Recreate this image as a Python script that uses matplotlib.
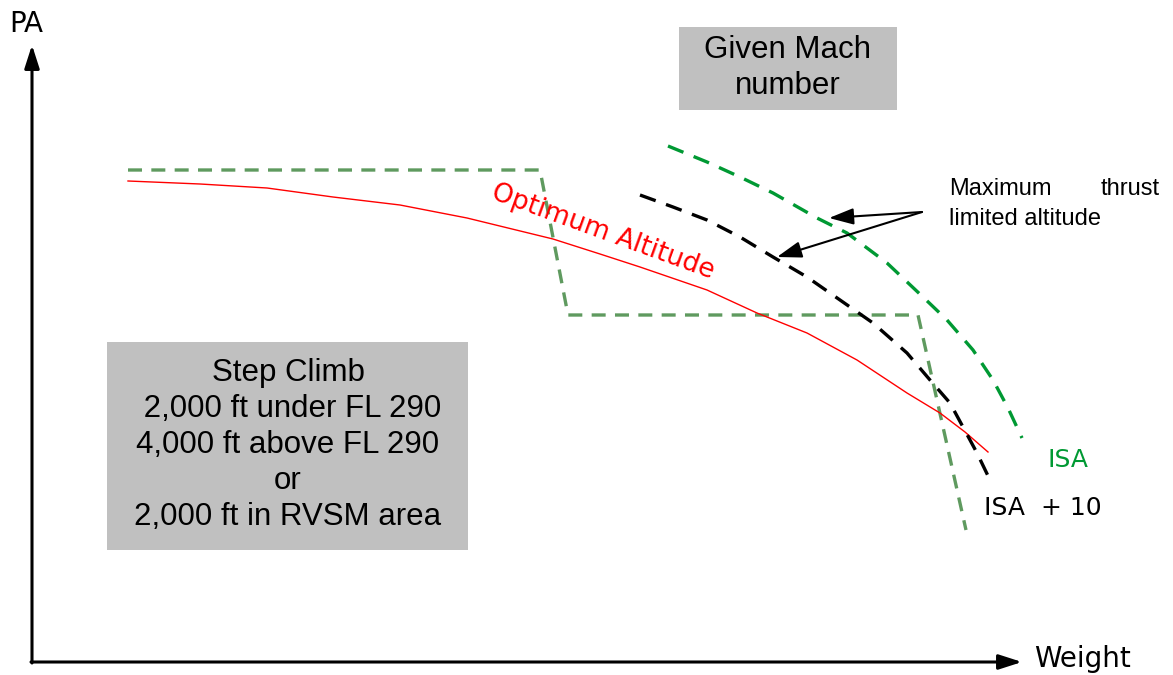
import matplotlib
matplotlib.use("Agg")
import matplotlib.pyplot as plt
from matplotlib.patches import Rectangle

# Schematic curves (weight -> pressure altitude), in drawing units (pixel-like)
step_x = [128, 540, 568, 918, 966]
step_y = [170, 170, 315, 315, 530]

opt_x = [128, 200, 267, 333, 400, 467, 553, 600, 640, 707, 757, 807, 857, 907, 940, 965, 988]
opt_y = [181, 184, 188, 197, 205, 218, 239, 254, 267, 290, 313, 333, 360, 393, 413, 432, 452]

isa10_x = [640, 673, 707, 740, 773, 807, 840, 873, 907, 930, 950, 963, 977, 990]
isa10_y = [195, 207, 220, 237, 257, 277, 300, 323, 353, 380, 403, 427, 453, 480]

isa_x = [668, 707, 740, 773, 817, 847, 887, 923, 947, 973, 993, 1008, 1022]
isa_y = [146, 162, 177, 193, 218, 233, 263, 297, 320, 350, 380, 408, 438]

fig = plt.figure(figsize=(11.73, 6.75), dpi=100)
ax = fig.add_axes([0, 0, 1, 1])
ax.set_xlim(0, 1173)
ax.set_ylim(675, 0)
ax.axis("off")

sans = ["Liberation Sans", "DejaVu Sans"]
geo = ["DejaVu Sans"]

# axes arrows
ax.annotate("", xy=(32, 45), xytext=(32, 663),
            arrowprops=dict(arrowstyle="-|>,head_length=1.4,head_width=0.45", color="black", lw=2.2, shrinkA=0, shrinkB=0))
ax.annotate("", xy=(1022, 662), xytext=(31, 662),
            arrowprops=dict(arrowstyle="-|>,head_length=1.4,head_width=0.45", color="black", lw=2.2, shrinkA=0, shrinkB=0))
ax.text(9, 24, "PA", fontsize=20, family=geo, va="center", ha="left")
ax.text(1034, 659, "Weight", fontsize=20, family=geo, va="center", ha="left")

# curves
ax.plot(step_x, step_y, color="#5f9a5f", lw=2.4, ls=(0, (4.2, 2.8)))
ax.plot(opt_x, opt_y, color="#ff0000", lw=1)
ax.plot(isa10_x, isa10_y, color="black", lw=2.4, ls=(0, (5, 3.3)))
ax.plot(isa_x, isa_y, color="#009933", lw=2.4, ls=(0, (5, 3.3)))

# boxes
ax.add_patch(Rectangle((679, 27), 218, 83, facecolor="#c0c0c0", edgecolor="none"))
ax.text(788, 68, "Given Mach\nnumber", fontsize=22.5, family=sans, ha="center", va="center", linespacing=1.3)
ax.add_patch(Rectangle((107, 342), 361, 208, facecolor="#c0c0c0", edgecolor="none"))
ax.text(288, 445, "Step Climb\n 2,000 ft under FL 290\n4,000 ft above FL 290\nor\n2,000 ft in RVSM area",
        fontsize=22.5, family=sans, ha="center", va="center", linespacing=1.27)

# labels
ax.text(603, 232, "Optimum Altitude", fontsize=19, family=geo, color="#ff0000",
        rotation=-20, rotation_mode="anchor", ha="center", va="center")
ax.text(949, 189, "Maximum", fontsize=17, family=sans, ha="left", va="center")
ax.text(1160, 189, "thrust", fontsize=17, family=sans, ha="right", va="center")
ax.text(949, 219, "limited altitude", fontsize=17, family=sans, ha="left", va="center")
ax.text(1047, 460, "ISA", fontsize=18, family=geo, color="#009933", ha="left", va="center")
ax.text(984, 508, "ISA  + 10", fontsize=18, family=geo, color="black", ha="left", va="center")

for tgt in [(829, 218), (777, 257)]:
    ax.annotate("", xy=tgt, xytext=(922, 212),
                arrowprops=dict(arrowstyle="-|>,head_length=1.5,head_width=0.5", color="black", lw=1.5, shrinkA=0, shrinkB=0))

fig.savefig("out.png", dpi=100)
